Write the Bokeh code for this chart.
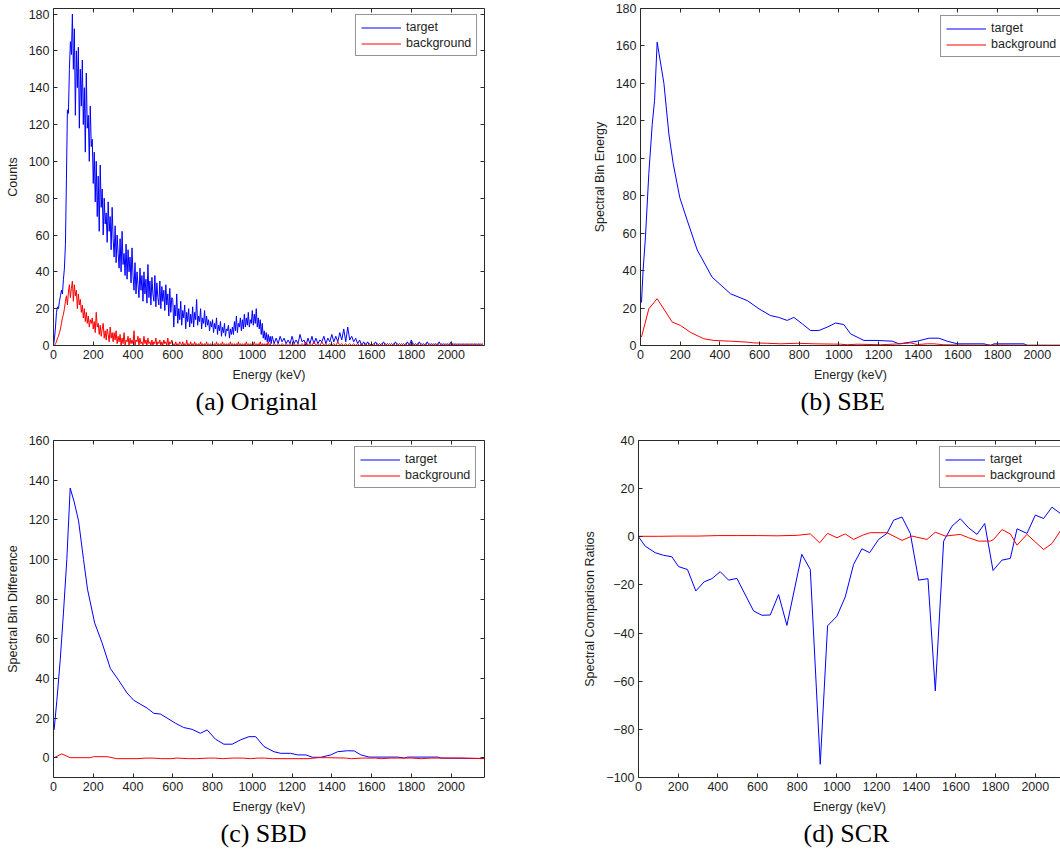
from bokeh.plotting import figure
from bokeh.models import Range1d, LinearAxis, FixedTicker, Legend, LegendItem, Title
from bokeh.layouts import row, column
from bokeh.embed import file_html
from bokeh.resources import INLINE

# ---------------- data ----------------
energy_a = list(range(0, 1100, 5)) + list(range(1100, 2170, 10))
counts_target = [
    # 0-95 keV (5 keV steps)
    0, 4, 10, 18, 21, 20, 24, 27, 30, 28, 36, 42, 55, 90, 128, 126, 150, 165, 158, 180,
    150, 172, 125, 160, 140, 162, 118, 150, 130, 155, 120, 140, 105, 148, 118, 125, 100, 130, 108, 112,
    88, 105, 78, 100, 70, 92, 62, 98, 75, 85, 60, 80, 66, 72, 56, 78, 62, 70, 52, 75,
    58, 48, 65, 45, 60, 50, 42, 58, 40, 62, 44, 50, 38, 55, 36, 52, 40, 48, 34, 53,
    38, 30, 45, 28, 40, 33, 26, 42, 30, 38, 24, 40, 28, 36, 23, 44, 26, 35, 22, 37,
    28, 24, 38, 21, 34, 26, 22, 35, 20, 32, 24, 30, 19, 33, 22, 28, 16, 31, 18, 26,
    25, 10, 22, 16, 28, 12, 20, 14, 24, 11, 19, 15, 22, 9, 18, 13, 20, 10, 17, 12,
    21, 10, 18, 14, 25, 11, 16, 13, 20, 9, 15, 12, 19, 10, 16, 11, 14, 8, 13, 10,
    14, 7, 12, 9, 15, 6, 11, 8, 13, 5, 10, 7, 12, 5, 9, 8, 11, 4, 9, 6,
    10, 6, 13, 8, 16, 7, 12, 10, 15, 8, 14, 9, 17, 10, 15, 11, 18, 10, 14, 12,
    19, 11, 17, 12, 20, 10, 15, 9, 14, 6, 12, 4, 8, 3, 7, 2, 6, 2, 5, 1,
    # 1100-2160 keV (10 keV steps)
    5, 1, 4, 1, 5, 2, 4, 1, 3, 1,
    5, 1, 3, 1, 6, 2, 3, 0, 4, 1,
    5, 1, 4, 1, 3, 2, 5, 1, 4, 2,
    6, 2, 5, 2, 7, 3, 9, 2, 10, 3,
    5, 2, 4, 1, 3, 0, 2, 0, 2, 0,
    1, 0, 2, 0, 1, 0, 2, 0, 1, 0,
    1, 0, 2, 0, 1, 0, 1, 0, 2, 0,
    3, 0, 1, 0, 2, 0, 1, 0, 2, 0,
    1, 0, 1, 0, 2, 0, 1, 0, 1, 0,
    2, 0, 1, 0, 1, 0, 1, 0, 1, 0,
    1, 0, 1, 0, 1, 0, 1,
]
counts_background = [
    0, 0, 1, 2, 4, 5, 7, 9, 12, 15, 17, 20, 24, 27, 22, 29, 33, 26, 31, 35,
    24, 33, 27, 30, 20, 28, 22, 25, 18, 22, 15, 20, 13, 18, 12, 16, 10, 14, 12, 15,
    9, 13, 7, 18, 10, 12, 6, 11, 5, 9, 12, 4, 8, 3, 9, 6, 2, 10, 4, 7,
    2, 7, 3, 8, 1, 5, 2, 6, 0, 4, 1, 7, 0, 3, 2, 5, 0, 4, 1, 3,
    1, 8, 0, 3, 2, 5, 0, 4, 1, 2, 0, 5, 1, 3, 0, 4, 1, 2, 0, 3,
    0, 2, 1, 4, 0, 2, 1, 3, 0, 2, 0, 3, 1, 2, 0, 4, 0, 2, 1, 3,
    0, 1, 0, 2, 0, 1, 0, 2, 1, 0, 2, 0, 1, 0, 3, 0, 1, 0, 2, 0,
    1, 0, 2, 0, 1, 0, 1, 0, 2, 0, 1, 0, 1, 0, 2, 0, 1, 0, 1, 0,
    1, 0, 1, 0, 2, 0, 1, 0, 1, 0, 2, 0, 1, 0, 1, 0, 1, 0, 2, 0,
    1, 0, 1, 0, 1, 0, 2, 0, 1, 0, 1, 0, 1, 0, 2, 0, 1, 0, 1, 0,
    1, 0, 2, 0, 1, 0, 1, 0, 2, 0, 1, 0, 1, 0, 1, 0, 2, 0, 1, 0,
    0, 1, 0, 1, 0, 1, 0, 1, 0, 1,
    0, 1, 0, 1, 0, 1, 0, 2, 0, 1,
    0, 2, 0, 1, 0, 2, 0, 1, 0, 1,
    0, 1, 0, 2, 0, 1, 0, 1, 0, 1,
    0, 1, 0, 1, 0, 1, 0, 1, 0, 1,
    0, 1, 0, 1, 0, 1, 0, 1, 0, 1,
    0, 1, 0, 1, 0, 1, 0, 1, 0, 1,
    0, 1, 0, 1, 0, 1, 0, 1, 0, 1,
    0, 1, 0, 1, 0, 1, 0, 1, 0, 1,
    0, 1, 0, 1, 0, 1, 0, 1, 0, 1,
    0, 1, 0, 1, 0, 1, 0,
]

sbe_target_x = [5, 13, 25, 42, 59, 71, 84, 118, 143, 165, 198, 235, 286, 361, 454, 538, 597, 655,
                697, 739, 773, 815, 857, 899, 941, 983, 1025, 1059, 1126, 1193, 1269, 1303, 1395,
                1454, 1504, 1546, 1597, 1731, 1765, 1782, 1933, 1950, 2168]
sbe_target_y = [23, 40, 58, 92, 118, 131, 162, 140, 113, 97, 79, 67, 51, 36.5, 27.6, 24, 19.6, 16,
                15, 13.4, 15, 11.6, 8, 8, 9.8, 12, 11.2, 6.2, 2.7, 2.7, 2.3, 0.9, 2.3,
                3.9, 3.9, 2.3, 0.9, 0.9, 0, 0.9, 0.9, 0, 0]
sbe_bg_x = [5, 42, 84, 160, 202, 252, 319, 370, 454, 538, 571, 639, 706, 790, 874, 1008, 1042,
            1092, 1210, 1311, 1361, 1395, 1445, 1479, 1529, 1600, 1700, 1800, 1900, 2000, 2168]
sbe_bg_y = [4.5, 19.6, 25, 12.5, 10.7, 7, 3.6, 2.7, 2.3, 1.8, 1.4, 1.2, 0.9, 1.2, 0.9, 0.7, 0.4,
            0.7, 0.4, 0.9, 1.4, 0.5, 0.9, 0.9, 0.4, 0.3, 0.2, 0.3, 0.2, 0.2, 0.2]

sbd_target_x = [3, 17, 34, 50, 67, 84, 104, 126, 151, 171, 207, 244, 286, 328, 370, 403, 471, 504,
                538, 571, 613, 655, 697, 739, 773, 815, 857, 899, 941, 983, 1017, 1059, 1109, 1143,
                1193, 1227, 1269, 1303, 1345, 1395, 1429, 1479, 1513, 1546, 1588, 1731, 1765, 1782,
                1933, 1950, 2168]
sbd_target_y = [14, 29, 49.5, 73, 100, 136, 129, 119.5, 100, 85, 68, 58, 45, 39, 32.6, 29, 25, 22.4,
                22, 20, 17.4, 15.2, 14.3, 12.3, 14, 9.3, 6.8, 6.8, 9, 10.6, 10.6, 5.6, 3, 2.2,
                2.2, 1.4, 1.4, 0.2, 0.2, 1.4, 3, 3.5, 3.4, 1.4, 0.3, 0.3, -0.2, 0.3,
                0.3, -0.2, -0.4]
sbd_bg_x = [3, 42, 84, 185, 202, 269, 319, 420, 470, 500, 540, 590, 620, 680, 720, 780, 810, 850,
            900, 950, 990, 1030, 1060, 1100, 1200, 1280, 1330, 1380, 1470, 1500, 1550, 1620, 1650,
            1700, 1750, 1800, 1850, 1900, 2050, 2168]
sbd_bg_y = [0, 1.9, 0, 0, 0.5, 0.5, -0.5, -0.5, -0.2, -0.2, -0.5, -0.5, -0.2, -0.5, -0.5, -0.2,
            -0.2, -0.5, -0.2, -0.2, -0.5, -0.2, -0.2, -0.5, -0.5, -0.5, 0, 0, -0.2, -0.5, -0.2,
            -0.2, -0.5, -0.2, -0.2, -0.2, -0.5, -0.2, -0.2, -0.5]

scr_target_x = [0, 34, 84, 126, 168, 202, 247, 289, 331, 370, 412, 454, 496, 580, 622, 664, 706,
                748, 823, 866, 916, 953, 1000, 1042, 1084, 1126, 1165, 1210, 1252, 1286, 1328,
                1370, 1412, 1459, 1496, 1538, 1580, 1622, 1664, 1706, 1745, 1787, 1832, 1874,
                1908, 1958, 2000, 2042, 2084, 2126]
scr_target_y = [0, -3.9, -6.6, -7.7, -8.3, -12.4, -13.6, -22.5, -18.7, -17.4, -14.5, -18, -17.3,
                -30.8, -32.6, -32.5, -24, -36.8, -7.3, -13.6, -94.5, -37, -33, -25, -11.5, -5,
                -6.6, -1.1, 1.4, 6.9, 8.2, 1.4, -18, -17.4, -64, -1.8, 4.4, 7.5, 3.7, 1, 5.5,
                -14, -9.7, -9, 3.3, 1.4, 9, 7.6, 12.3, 9.7]
scr_bg_x = [0, 100, 200, 300, 400, 500, 600, 700, 800, 866, 913, 953, 1000, 1042, 1084, 1134,
            1168, 1252, 1328, 1378, 1454, 1496, 1546, 1622, 1664, 1714, 1773, 1790, 1832, 1874,
            1908, 1958, 2042, 2084, 2126]
scr_bg_y = [0.2, 0.2, 0.3, 0.3, 0.5, 0.5, 0.5, 0.4, 0.6, 1.2, -2.5, 1.4, -0.4, 1.2, -1.1, 0.8,
            1.7, 1.7, -1.5, 0.3, -1.1, 1.9, 0.3, 1, -0.4, -1.8, -1.8, -1.1, 3, 1.2, -3.5, 1,
            -5.3, -2.8, 2.4]

x_ticks = [0, 200, 400, 600, 800, 1000, 1200, 1400, 1600, 1800, 2000]
series_names = ["target", "background"]

# ---------------- style ----------------
SANS = "Liberation Sans"
SERIF = "Liberation Serif"
TXT = "#1e1e1e"
AX = "#2a2a2a"
FS = "12.5px"
BLUE = "#0000ff"
RED = "#ff0000"


def style_axis(ax, labels=True):
    ax.major_tick_in = 4
    ax.major_tick_out = 0
    ax.minor_tick_line_color = None
    ax.axis_line_color = AX
    ax.major_tick_line_color = AX
    ax.major_label_text_font = SANS
    ax.major_label_standoff = 4 if labels else 0
    if labels:
        ax.major_label_text_font_size = FS
        ax.major_label_text_color = TXT
    else:
        ax.major_label_text_font_size = "0px"
        ax.major_label_text_color = None
    ax.axis_label_text_font = SANS
    ax.axis_label_text_font_size = FS
    ax.axis_label_text_font_style = "normal"
    ax.axis_label_text_color = TXT
    ax.axis_label_standoff = 6


def panel(width, height, left, right, top, bottom, x_end, y_lo, y_hi, y_ticks, ylabel,
          caption, cap_offset, tx, ty, bx, by, has_right, leg_xy):
    p = figure(width=width, height=height, x_range=Range1d(0, x_end), y_range=Range1d(y_lo, y_hi),
               output_backend="svg", toolbar_location=None,
               x_axis_location=None, y_axis_location=None,
               min_border_left=left, min_border_right=right,
               min_border_top=top, min_border_bottom=bottom)
    p.outline_line_color = None
    p.xgrid.visible = False
    p.ygrid.visible = False
    p.background_fill_color = "white"
    p.border_fill_color = "white"

    xb = LinearAxis(ticker=FixedTicker(ticks=x_ticks), axis_label="Energy (keV)")
    style_axis(xb)
    p.add_layout(xb, "below")
    xt = LinearAxis(ticker=FixedTicker(ticks=x_ticks))
    style_axis(xt, labels=False)
    p.add_layout(xt, "above")
    yl = LinearAxis(ticker=FixedTicker(ticks=y_ticks), axis_label=ylabel)
    style_axis(yl)
    p.add_layout(yl, "left")
    if has_right:
        yr = LinearAxis(ticker=FixedTicker(ticks=y_ticks))
        style_axis(yr, labels=False)
        p.add_layout(yr, "right")

    r1 = p.line(tx, ty, line_color=BLUE, line_width=1)
    r2 = p.line(bx, by, line_color=RED, line_width=1)

    leg = Legend(items=[LegendItem(label=series_names[0], renderers=[r1]),
                        LegendItem(label=series_names[1], renderers=[r2])],
                 location=leg_xy, margin=0, padding=5, spacing=2,
                 glyph_width=40, glyph_height=13, label_height=13, label_standoff=5,
                 label_text_font=SANS, label_text_font_size=FS, label_text_color=TXT,
                 border_line_color=AX, border_line_width=1, background_fill_alpha=1.0)
    p.add_layout(leg)

    cap = Title(text=caption, align="left", offset=cap_offset, text_font=SERIF,
                text_font_size="26px", text_font_style="normal", text_color="black", standoff=1)
    p.add_layout(cap, "below")
    return p


pa = panel(580, 425, 53, 96, 7, 80, 2168, 0, 183, list(range(0, 181, 20)), "Counts",
           "(a) Original", 142, energy_a, counts_target, energy_a, counts_background, True, (302, 289))
pb = panel(480, 425, 60, 0, 8, 80, 2117, 0, 180, list(range(0, 181, 20)), "Spectral Bin Energy",
           "(b) SBE", 160, sbe_target_x, sbe_target_y, sbe_bg_x, sbe_bg_y, False, (300, 288))
pc = panel(580, 424, 53, 96, 15, 72, 2168, -10, 160, list(range(0, 161, 20)), "Spectral Bin Difference",
           "(c) SBD", 167, sbd_target_x, sbd_target_y, sbd_bg_x, sbd_bg_y, True, (301, 289))
pd = panel(480, 424, 58, 0, 14, 72, 2127, -100, 40, list(range(-100, 41, 20)), "Spectral Comparison Ratios",
           "(d) SCR", 165, scr_target_x, scr_target_y, scr_bg_x, scr_bg_y, False, (301, 289))

layout = column(row(pa, pb, spacing=0), row(pc, pd, spacing=0), spacing=0)

open("out.html", "w").write(file_html(layout, INLINE, "Spectra"))
